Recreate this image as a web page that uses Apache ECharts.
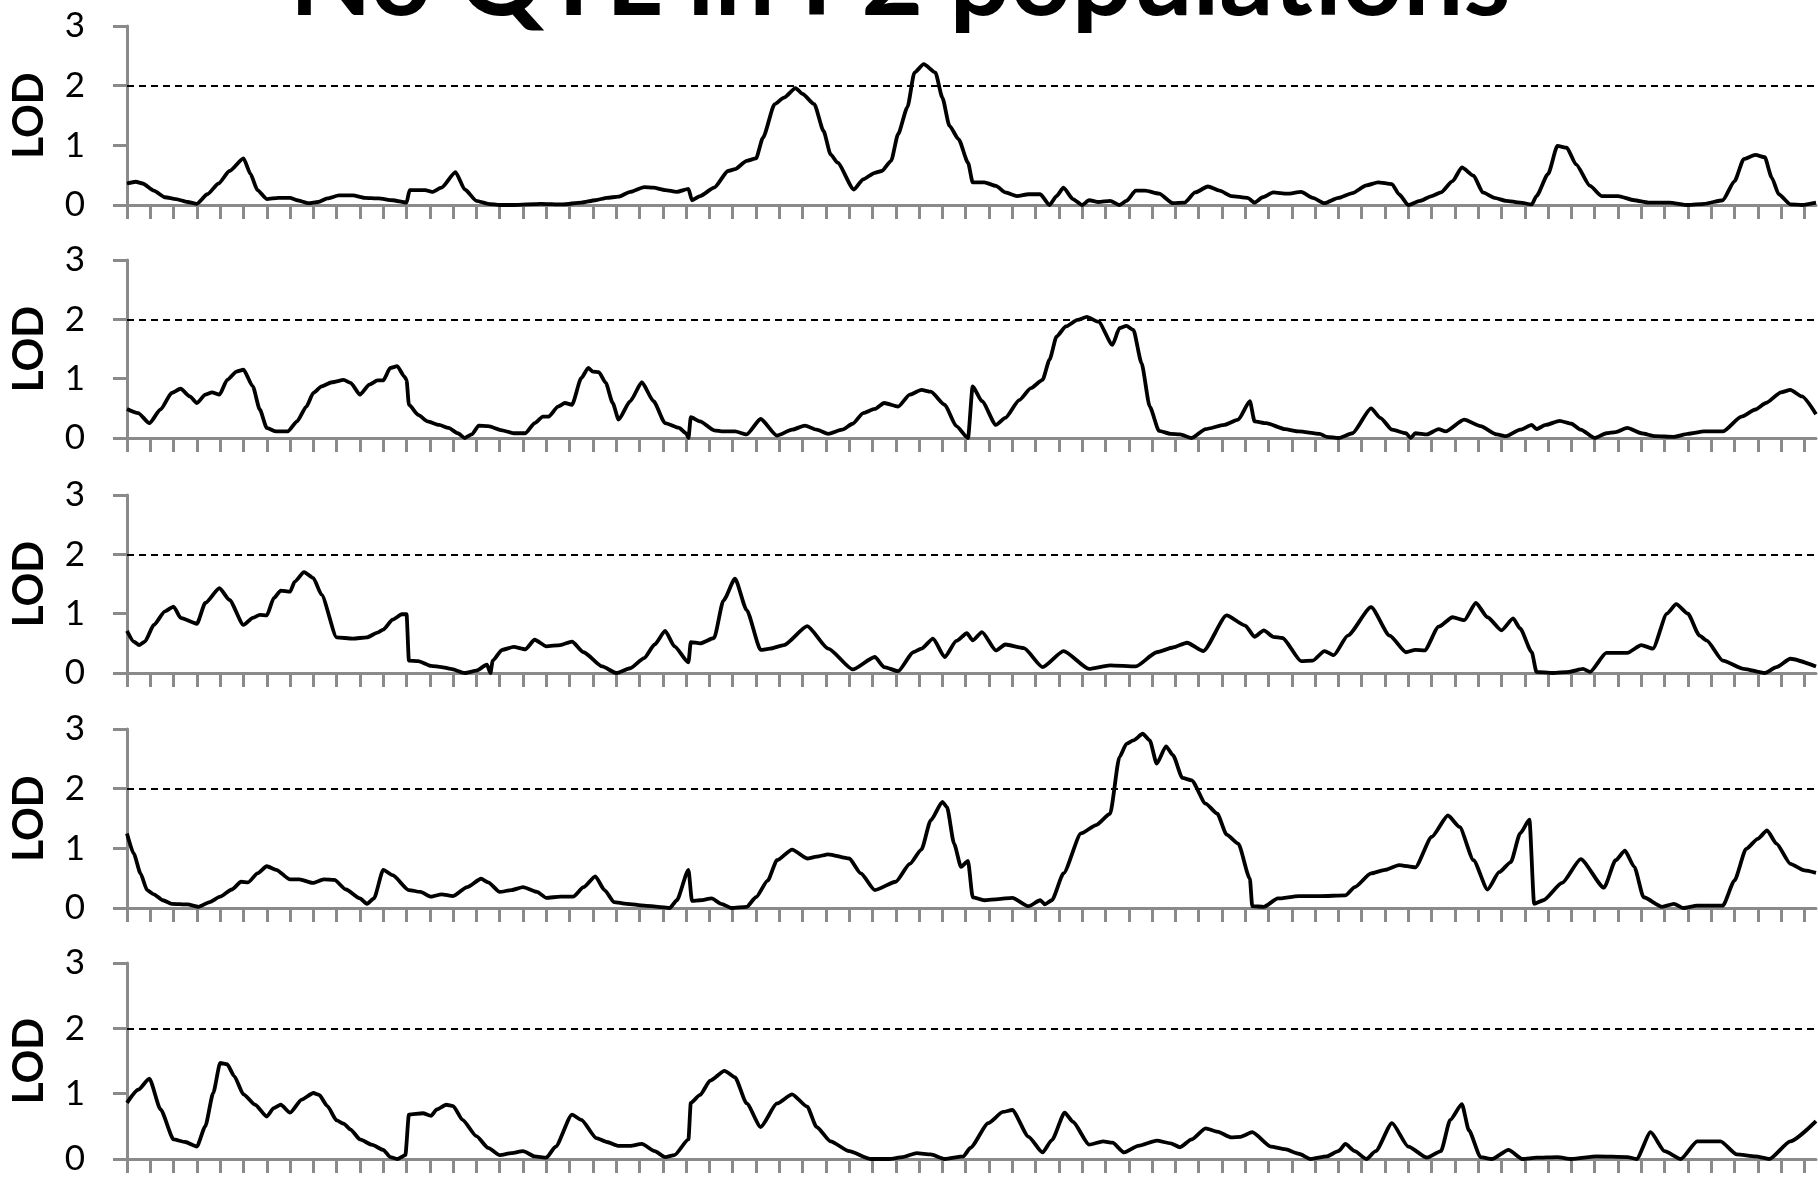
<!DOCTYPE html>
<html><head><meta charset="utf-8">
<script src="https://cdn.jsdelivr.net/npm/echarts@6/dist/echarts.min.js"></script>
<style>html,body{margin:0;padding:0;background:#fff}#c{width:1818px;height:1178px}</style>
</head><body><div id="c"></div>
<script>
const titleText = 'No QTL in F2 populations';
const yAxisName = 'LOD';
const threshold = 2;
const xMax = 72.5;
const markerTicks = Array.from({length: 73}, (_, i) => i);

// [position (marker-tick units), LOD]
const panel1 = [[0,.36],[.38,.39],[.67,.36],[1.15,.24],[1.63,.13],[2.1,.10],[2.6,.05],[3.0,.02],[3.45,.18],[3.93,.36],[4.4,.57],[5.0,.78],[5.3,.52],[5.6,.25],[6.0,.10],[6.5,.12],[7.0,.12],[7.3,.08],[7.8,.03],[8.2,.05],[8.6,.11],[9.1,.16],[9.7,.16],[10.2,.12],[10.8,.11],[11.4,.08],[12.0,.04],[12.13,.25],[12.8,.25],[13.1,.22],[13.5,.29],[14.1,.55],[14.5,.26],[15.0,.07],[15.5,.02],[16.0,0],[16.6,0],[17.75,.02],[18.7,.01],[19.5,.04],[20.1,.08],[20.6,.12],[21.1,.14],[21.6,.22],[22.2,.30],[22.6,.29],[23.1,.25],[23.6,.22],[24.1,.27],[24.25,.08],[24.6,.15],[25.2,.29],[25.8,.57],[26.1,.60],[26.6,.74],[27.0,.78],[27.3,1.13],[27.8,1.69],[28.2,1.80],[28.7,1.96],[29.0,1.86],[29.5,1.69],[29.9,1.24],[30.2,.85],[30.5,.71],[31.2,.26],[31.6,.43],[32.1,.54],[32.4,.57],[32.8,.74],[33.1,1.19],[33.5,1.64],[33.8,2.22],[34.2,2.36],[34.7,2.22],[35.0,1.80],[35.3,1.33],[35.7,1.10],[36.1,.71],[36.3,.38],[36.8,.38],[37.3,.32],[37.7,.21],[38.2,.15],[38.7,.18],[39.2,.18],[39.6,0],[39.9,.15],[40.2,.29],[40.6,.10],[41.0,0],[41.3,.08],[41.7,.05],[42.2,.07],[42.6,0],[42.9,.07],[43.3,.24],[43.7,.24],[44.3,.19],[44.9,.03],[45.4,.04],[45.85,.21],[46.4,.31],[46.9,.24],[47.4,.15],[48.1,.12],[48.4,.04],[48.75,.13],[49.2,.21],[49.8,.19],[50.4,.22],[50.9,.12],[51.4,.03],[52.0,.12],[52.6,.20],[53.2,.33],[53.7,.38],[54.3,.35],[54.6,.18],[55.0,0],[55.5,.07],[56.0,.15],[56.4,.21],[56.9,.40],[57.3,.63],[57.8,.49],[58.2,.21],[58.7,.12],[59.2,.07],[59.8,.04],[60.3,.01],[60.5,.15],[61.0,.52],[61.4,.99],[61.8,.96],[62.2,.68],[62.8,.32],[63.3,.15],[64.0,.15],[64.7,.08],[65.3,.04],[66.2,.04],[67.0,0],[67.7,.02],[68.5,.08],[69.0,.40],[69.4,.77],[69.9,.84],[70.3,.80],[70.6,.46],[70.9,.18],[71.4,.01],[71.9,0],[72.5,.04]];

const panel2 = [[0,.49],[.48,.42],[.96,.25],[1.44,.48],[1.92,.76],[2.3,.83],[2.7,.70],[3.0,.59],[3.36,.73],[3.65,.77],[3.97,.73],[4.3,.98],[4.7,1.12],[5.0,1.15],[5.4,.87],[5.7,.48],[6.0,.17],[6.4,.11],[6.9,.11],[7.3,.28],[7.7,.53],[8.0,.76],[8.35,.87],[8.8,.94],[9.3,.98],[9.6,.93],[10.0,.73],[10.4,.90],[10.75,.97],[11.0,.97],[11.3,1.18],[11.6,1.21],[11.9,1.04],[12.0,.98],[12.1,.56],[12.5,.39],[12.9,.28],[13.4,.22],[13.8,.17],[14.2,.08],[14.5,0],[14.8,.06],[15.1,.21],[15.5,.20],[16.1,.13],[16.6,.08],[17.1,.08],[17.5,.25],[17.85,.36],[18.1,.36],[18.5,.53],[18.8,.59],[19.1,.56],[19.5,1.01],[19.8,1.18],[20.0,1.12],[20.25,1.11],[20.55,.93],[20.85,.59],[21.1,.31],[21.6,.62],[22.1,.94],[22.6,.62],[23.1,.25],[23.7,.17],[24.0,.08],[24.1,0],[24.2,.35],[24.6,.28],[25.2,.13],[25.6,.11],[26.1,.11],[26.6,.06],[27.2,.32],[27.9,.04],[28.55,.14],[29.1,.21],[29.6,.14],[30.1,.07],[30.7,.14],[31.15,.24],[31.6,.42],[32.1,.49],[32.5,.59],[33.1,.53],[33.6,.73],[34.1,.81],[34.5,.78],[35.1,.56],[35.6,.20],[36.1,0],[36.3,.87],[36.7,.62],[37.3,.22],[37.7,.34],[38.3,.64],[38.8,.84],[39.3,.98],[39.6,1.32],[39.9,1.71],[40.3,1.88],[40.8,1.99],[41.2,2.04],[41.7,1.96],[42.3,1.57],[42.6,1.85],[42.9,1.89],[43.2,1.82],[43.55,1.26],[43.9,.53],[44.3,.12],[44.8,.07],[45.2,.06],[45.7,0],[46.3,.15],[47.1,.22],[47.7,.31],[48.2,.62],[48.4,.28],[48.9,.25],[49.7,.15],[50.3,.11],[51.2,.07],[51.5,.02],[52.0,0],[52.6,.08],[53.4,.50],[53.8,.34],[54.3,.14],[54.9,.08],[55.1,0],[55.3,.08],[55.8,.06],[56.3,.15],[56.6,.11],[57.4,.31],[58.1,.20],[58.8,.06],[59.2,.03],[59.8,.14],[60.3,.22],[60.5,.15],[60.9,.22],[61.5,.29],[62.0,.24],[62.4,.14],[63.0,0],[63.5,.08],[63.9,.10],[64.4,.17],[65.0,.08],[65.6,.03],[66.4,.02],[67.0,.07],[67.7,.11],[68.5,.11],[69.3,.36],[69.9,.48],[70.35,.59],[71.0,.77],[71.4,.81],[71.9,.70],[72.5,.40]];

const panel3 = [[0,.71],[.29,.53],[.52,.47],[.77,.53],[1.15,.81],[1.63,1.04],[2.0,1.12],[2.3,.93],[3.0,.83],[3.36,1.18],[3.97,1.43],[4.4,1.23],[5.0,.81],[5.4,.93],[5.7,.98],[6.0,.97],[6.3,1.26],[6.6,1.39],[7.0,1.37],[7.2,1.54],[7.6,1.70],[8.0,1.60],[8.35,1.32],[9.0,.60],[9.7,.58],[10.3,.60],[10.75,.68],[11.0,.73],[11.4,.90],[11.8,.99],[12.0,.99],[12.1,.21],[12.5,.20],[13.05,.12],[13.5,.10],[13.9,.07],[14.5,0],[15.0,.04],[15.45,.14],[15.6,0],[15.7,.21],[16.1,.39],[16.6,.44],[17.1,.40],[17.5,.56],[18.0,.45],[18.6,.47],[19.1,.53],[19.6,.35],[20.4,.11],[21.0,0],[21.6,.08],[22.2,.25],[22.65,.48],[23.1,.71],[23.5,.45],[24.1,.18],[24.2,.52],[24.6,.50],[25.2,.59],[25.6,1.22],[26.1,1.59],[26.6,1.06],[27.2,.39],[27.6,.41],[28.2,.47],[29.2,.79],[30.1,.41],[31.15,.06],[32.1,.27],[32.5,.10],[33.1,.03],[33.75,.35],[34.1,.41],[34.6,.58],[35.1,.27],[35.6,.54],[36.05,.67],[36.3,.55],[36.7,.69],[37.3,.38],[37.7,.48],[38.5,.42],[39.3,.10],[40.2,.37],[41.3,.07],[42.2,.13],[43.3,.11],[44.2,.35],[44.9,.43],[45.5,.51],[46.2,.37],[47.2,.97],[48.0,.80],[48.4,.61],[48.8,.72],[49.2,.61],[49.6,.59],[50.4,.20],[50.9,.21],[51.4,.37],[51.8,.30],[52.4,.63],[53.4,1.11],[54.2,.63],[54.9,.35],[55.3,.39],[55.7,.38],[56.3,.78],[56.9,.94],[57.4,.89],[57.9,1.18],[58.4,.94],[59.0,.72],[59.5,.92],[59.8,.75],[60.3,.35],[60.5,.02],[61.2,0],[61.9,.02],[62.5,.07],[62.8,.02],[63.5,.34],[64.4,.34],[65.0,.47],[65.5,.41],[66.1,1.0],[66.5,1.16],[67.0,1.0],[67.5,.63],[67.8,.55],[68.5,.21],[69.4,.07],[70.3,0],[70.8,.10],[71.4,.24],[72.5,.11]];

const panel4 = [[0,1.25],[.29,.91],[.58,.58],[.86,.30],[1.15,.23],[1.54,.13],[1.92,.07],[2.6,.06],[3.07,.02],[3.55,.10],[4.0,.19],[4.5,.31],[4.9,.44],[5.2,.43],[5.6,.58],[6.0,.70],[6.4,.64],[7.0,.48],[7.4,.48],[7.97,.42],[8.45,.48],[8.9,.47],[9.4,.31],[10.0,.16],[10.3,.07],[10.6,.16],[11.0,.64],[11.4,.55],[12.1,.30],[12.6,.27],[13.05,.19],[13.5,.23],[14.0,.20],[14.6,.35],[15.2,.49],[15.5,.43],[16.0,.27],[16.5,.30],[17.0,.35],[17.6,.27],[18.0,.17],[18.6,.19],[19.15,.19],[19.6,.35],[20.1,.53],[20.5,.30],[20.9,.10],[21.45,.07],[22.2,.04],[22.8,.02],[23.3,0],[23.6,.13],[24.1,.64],[24.25,.12],[24.6,.13],[25.1,.16],[25.5,.07],[25.95,0],[26.6,.02],[27.0,.18],[27.5,.46],[27.9,.80],[28.55,.98],[29.2,.83],[29.6,.86],[30.1,.90],[31.0,.83],[31.5,.58],[32.1,.30],[33.0,.44],[33.6,.74],[34.1,.98],[34.5,1.47],[35.0,1.78],[35.2,1.69],[35.5,1.08],[35.8,.69],[36.1,.79],[36.3,.18],[36.8,.13],[37.4,.15],[38.0,.17],[38.7,.03],[39.2,.13],[39.4,.06],[39.7,.13],[40.2,.58],[40.95,1.25],[41.6,1.39],[42.2,1.58],[42.6,2.53],[42.9,2.75],[43.2,2.81],[43.6,2.92],[43.9,2.81],[44.2,2.42],[44.6,2.71],[44.9,2.56],[45.3,2.18],[45.7,2.14],[46.3,1.75],[46.8,1.58],[47.2,1.23],[47.7,1.08],[48.2,.49],[48.3,.03],[48.8,.02],[49.4,.16],[50.3,.20],[51.2,.20],[52.3,.21],[52.7,.35],[53.4,.58],[54.0,.64],[54.6,.72],[55.3,.68],[56.0,1.19],[56.7,1.55],[57.2,1.36],[57.8,.80],[58.4,.31],[58.9,.60],[59.4,.77],[59.8,1.25],[60.2,1.48],[60.4,.07],[60.8,.13],[61.6,.42],[62.4,.82],[63.4,.34],[63.9,.80],[64.3,.96],[64.7,.69],[65.1,.18],[65.9,.02],[66.4,.07],[66.8,0],[67.4,.04],[68.5,.04],[69.0,.46],[69.5,.99],[70.0,1.16],[70.4,1.30],[70.8,1.08],[71.4,.74],[72.0,.63],[72.5,.59]];

const panel5 = [[0,.86],[.48,1.06],[.96,1.23],[1.44,.76],[2.0,.30],[2.5,.26],[3.0,.19],[3.36,.50],[3.7,1.01],[4.0,1.47],[4.3,1.45],[4.6,1.27],[5.0,.99],[5.5,.83],[6.0,.65],[6.3,.78],[6.6,.83],[7.0,.71],[7.5,.91],[8.0,1.01],[8.25,.98],[8.6,.81],[9.0,.59],[9.3,.54],[9.6,.45],[10.0,.30],[10.5,.22],[11.0,.14],[11.3,.03],[11.6,0],[11.95,.06],[12.1,.68],[12.7,.70],[13.05,.66],[13.3,.76],[13.7,.83],[14.0,.81],[14.4,.60],[15.0,.35],[15.5,.17],[16.0,.06],[16.5,.09],[17.0,.12],[17.5,.04],[18.0,.02],[18.4,.19],[19.1,.68],[19.5,.60],[20.15,.32],[20.6,.26],[21.1,.20],[21.6,.20],[22.1,.23],[22.65,.12],[23.1,.03],[23.5,.06],[24.1,.30],[24.2,.86],[24.6,.98],[25.03,1.20],[25.65,1.35],[26.1,1.25],[26.6,.85],[27.2,.49],[27.9,.85],[28.55,.99],[29.2,.80],[29.6,.49],[30.2,.27],[31.0,.12],[31.9,0],[32.7,0],[33.3,.03],[33.9,.09],[34.5,.07],[35.1,0],[35.9,.04],[36.2,.17],[36.97,.55],[37.6,.72],[38.0,.75],[38.7,.34],[39.3,.10],[39.7,.29],[40.25,.71],[40.6,.57],[41.3,.22],[41.9,.27],[42.3,.25],[42.8,.10],[43.4,.20],[44.2,.28],[44.8,.24],[45.2,.18],[45.7,.30],[46.3,.47],[46.8,.42],[47.4,.33],[47.8,.34],[48.3,.41],[49.1,.19],[49.7,.15],[50.3,.08],[50.8,0],[51.5,.04],[52.0,.12],[52.3,.23],[52.7,.12],[53.2,0],[53.6,.12],[54.3,.55],[55.0,.19],[55.8,.02],[56.4,.12],[56.8,.60],[57.3,.84],[57.6,.44],[58.1,.03],[58.6,0],[59.3,.14],[59.9,0],[60.5,.02],[61.4,.03],[62.0,0],[63.1,.04],[64.4,.03],[64.8,0],[65.4,.41],[66.0,.12],[66.7,0],[67.4,.27],[68.4,.27],[69.1,.07],[69.9,.04],[70.5,0],[71.4,.27],[72.5,.58]];

const panels = [panel1, panel2, panel3, panel4, panel5];

// layout (pixels)
const gridLayout = [[26,179],[260,178],[495,178],[729,179],[963,196]];
const axisGray = '#8a8a8a';
const font = 'Lato, "Open Sans", sans-serif';

const chart = echarts.init(document.getElementById('c'), null, {renderer: 'canvas'});
chart.setOption({
  animation: false,
  backgroundColor: '#fff',
  graphic: [{
    type: 'text', x: 900, y: -20, silent: true,
    style: {text: titleText, fontSize: 107, fontWeight: 'bold', fontFamily: font, fill: '#000',
            textAlign: 'center', textVerticalAlign: 'middle'}
  }],
  grid: gridLayout.map(([top, h]) => ({left: 127, right: 2, top: top, height: h, containLabel: false, outerBoundsMode: 'none'})),
  xAxis: panels.map((_, i) => ({
    type: 'value', gridIndex: i, min: 0, max: xMax,
    axisLine: {show: true, onZero: true, lineStyle: {color: axisGray, width: 3}},
    axisTick: {show: true, customValues: markerTicks, length: 14, inside: false, lineStyle: {color: axisGray, width: 3}},
    axisLabel: {show: false},
    splitLine: {show: false}
  })),
  yAxis: panels.map((_, i) => ({
    type: 'value', gridIndex: i, min: 0, max: 3, interval: 1,
    axisLine: {show: true, lineStyle: {color: axisGray, width: 3}},
    axisTick: {show: true, length: 14, lineStyle: {color: axisGray, width: 3}},
    axisLabel: {fontSize: 35, color: '#000', fontFamily: font, margin: 42},
    splitLine: {show: false},
    name: yAxisName, nameLocation: 'middle', nameRotate: 90, nameGap: 77,
    nameTextStyle: {fontSize: 42, fontWeight: 'bold', fontFamily: font, color: '#000'}
  })),
  series: panels.map((d, i) => ({
    type: 'line', xAxisIndex: i, yAxisIndex: i, data: d,
    showSymbol: false, symbol: 'none', smooth: 0.2, smoothMonotone: 'x',
    lineStyle: {color: '#000', width: 3.8},
    markLine: {
      silent: true, symbol: 'none', label: {show: false},
      lineStyle: {color: '#000', width: 2, type: [7, 5]},
      data: [{yAxis: threshold}]
    }
  }))
});
</script>
</body></html>
